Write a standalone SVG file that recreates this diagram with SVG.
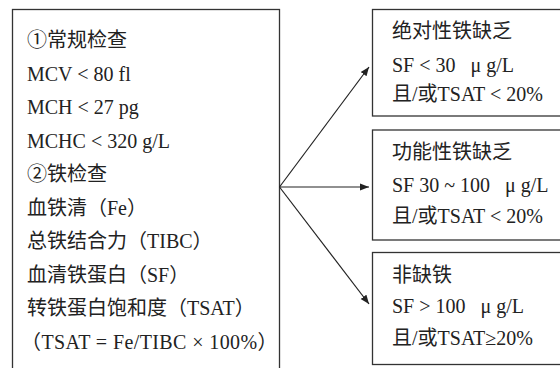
<svg xmlns="http://www.w3.org/2000/svg" width="560" height="368" viewBox="0 0 560 368">
<style>
.box{fill:#fff;stroke:#333;stroke-width:1.3}
.t{font-family:"Liberation Serif","Noto Sans CJK SC",serif;font-size:20px;fill:#222;white-space:pre}
.c{stroke:#222;stroke-width:1.2;fill:none;marker-end:url(#ah)}
</style>
<defs>
<marker id="ah" viewBox="0 0 10 10" refX="10" refY="5" markerWidth="9" markerHeight="9" markerUnits="userSpaceOnUse" orient="auto">
<path d="M0,1 L10,5 L0,9 Z" fill="#222"/>
</marker>
</defs>
<rect width="560" height="368" fill="#fff"/>
<g id="left">
<rect class="box" x="12.5" y="9.5" width="267" height="370"/>
<text class="t" x="27" y="47">①常规检查</text>
<text class="t" x="27" y="80.5">MCV &lt; 80 fl</text>
<text class="t" x="27" y="114">MCH &lt; 27 pg</text>
<text class="t" x="27" y="147.5">MCHC &lt; 320 g/L</text>
<text class="t" x="27" y="181">②铁检查</text>
<text class="t" x="27" y="214.5">血铁清（Fe）</text>
<text class="t" x="27" y="248">总铁结合力（TIBC）</text>
<text class="t" x="27" y="281.5">血清铁蛋白（SF）</text>
<text class="t" x="27" y="315">转铁蛋白饱和度（TSAT）</text>
<text class="t" x="21" y="348.5" letter-spacing="0.4">（TSAT = Fe/TIBC × 100%）</text>
</g>
<g id="absolute">
<rect class="box" x="372.5" y="9.5" width="200" height="106.5"/>
<text class="t" x="392" y="38">绝对性铁缺乏</text>
<text class="t" x="392" y="72">SF &lt; 30   μ g/L</text>
<text class="t" x="392" y="101">且/或TSAT &lt; 20%</text>
</g>
<g id="functional">
<rect class="box" x="372.5" y="130" width="200" height="110"/>
<text class="t" x="392" y="159">功能性铁缺乏</text>
<text class="t" x="392" y="192">SF 30 ~ 100   μ g/L</text>
<text class="t" x="392" y="223">且/或TSAT &lt; 20%</text>
</g>
<g id="nondeficient">
<rect class="box" x="372.5" y="252.5" width="200" height="112"/>
<text class="t" x="392" y="282">非缺铁</text>
<text class="t" x="392" y="313">SF &gt; 100   μ g/L</text>
<text class="t" x="392" y="345">且/或TSAT≥20%</text>
</g>
<g id="connectors">
<line class="c" x1="279.5" y1="187" x2="369" y2="67"/>
<line class="c" x1="279.5" y1="187" x2="369" y2="187"/>
<line class="c" x1="279.5" y1="187" x2="369" y2="304"/>
</g>
</svg>
